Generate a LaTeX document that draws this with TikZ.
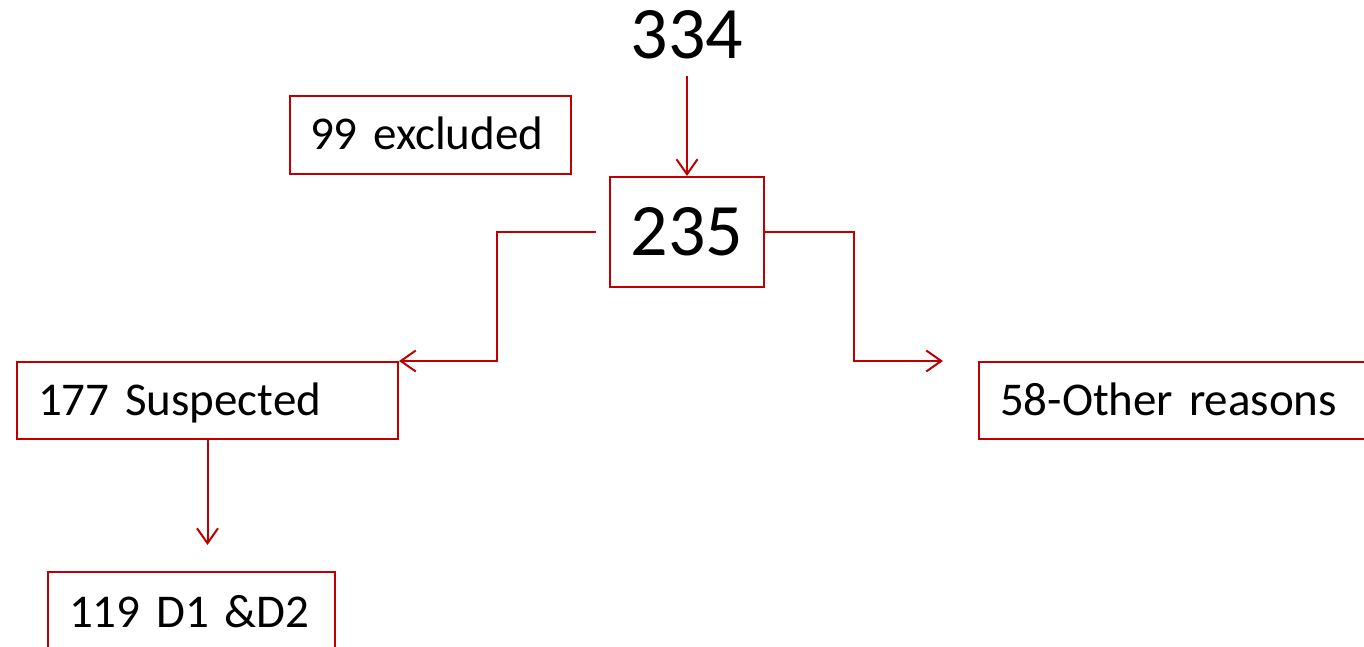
\documentclass[tikz,border=0pt]{standalone}
\usepackage{fontspec}
\setmainfont{Carlito}
\usetikzlibrary{arrows.meta}
\definecolor{boxred}{HTML}{C00000}
\tikzset{
  x=1pt, y=-1pt,
  bigtext/.style={font=\fontsize{74}{80}\selectfont},
  smalltext/.style={font=\fontsize{47}{52}\selectfont},
  framed/.style={draw=boxred, line width=2pt, rectangle},
  leftbox/.style={framed, smalltext, anchor=north west, align=left,
    inner ysep=0pt, text height=30pt, text depth=0pt},
  arr/.style={draw=boxred, line width=2pt,
    -{Straight Barb[length=15pt, width=21pt, line width=2pt]}},
  link/.style={draw=boxred, line width=2pt}
}
\begin{document}
\begin{tikzpicture}
\useasboundingbox (0,0) rectangle (1364,647);
\clip (0,0) rectangle (1364,647);

% top count and the box below it
\node[bigtext, inner xsep=0pt, inner ysep=17pt] (n334) at (687,35) {334};
\node[framed, bigtext, minimum width=154, minimum height=110, inner sep=0pt,
      text height=47pt, text depth=0pt] (n235) at (687,232) {235};

% boxes with left-set labels
\node[leftbox, minimum height=78, text width=241, inner xsep=20pt]
  (n99) at (289,95) {99 excluded};
\node[leftbox, minimum height=77, text width=339, inner xsep=21pt]
  (n177) at (16,361) {177 Suspected};
\node[leftbox, minimum height=77, text width=400, inner xsep=21pt]
  (n58) at (978,361) {58-Other reasons};
\node[leftbox, minimum height=80, text width=245, inner xsep=21pt]
  (n119) at (47,571) {119 D1 \&D2};

% bends of the branching connectors
\coordinate (lbend) at (497,232);
\coordinate (rbend) at (854,232);

% connectors
\draw[arr] (n334.south) -- (n235.north);
\draw[arr, shorten <=13pt] (n235.west) -- (lbend) |- (n177.north east);
\draw[arr, shorten >=35pt] (n235.east) -- (rbend) |- (n58.north west);
\draw[arr, shorten >=26pt] (n177.south) -- (n177.south |- n119.north);
\end{tikzpicture}
\end{document}
